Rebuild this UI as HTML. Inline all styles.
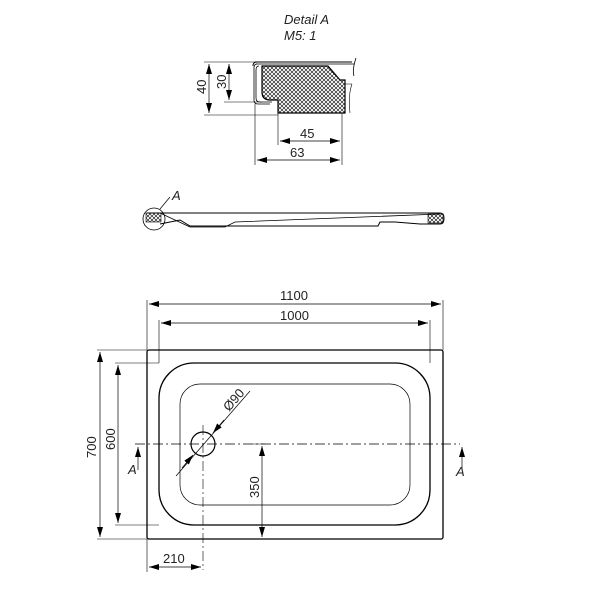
<!DOCTYPE html>
<html><head><style>body{margin:0;background:#fff}svg{display:block}text{font-family:"Liberation Sans",sans-serif;font-size:13px;fill:#222}</style></head><body>
<svg width="600" height="600" viewBox="0 0 600 600" xmlns="http://www.w3.org/2000/svg">
<defs>
<pattern id="h" width="4" height="4" patternUnits="userSpaceOnUse"><path d="M0 0L4 4M4 0L0 4" stroke="#000" stroke-width="0.6"/></pattern>
<marker id="a" markerWidth="10" markerHeight="6" refX="10" refY="3" orient="auto-start-reverse" markerUnits="userSpaceOnUse"><path d="M0 0L10 3L0 6z" fill="#000"/></marker>
</defs>
<g stroke="#000" fill="none">
<path d="M255 62H352M253 66Q253 62 257 62" stroke-width="1"/>
<path d="M256 64H354M356 58Q352 70 354 76" stroke-width="0.8"/>
<path d="M262 66H328L340 80H345V113H278V100H270Q262 100 262 92Z" fill="url(#h)" stroke-width="1.2"/>
<path d="M257 64Q254 64 254 68V100Q254 104 258 104H270M259 66Q256 66 256 70V98Q256 102 260 102H272" stroke-width="0.8"/>
<path d="M345 84H352M352 84Q348 95 350 113" stroke-width="0.6"/>
<path d="M204 62H255M204 115H278M224 102H262M255 104V165M278 113V145M342 113V165" stroke-width="0.6"/>
<g stroke-width="0.7" marker-start="url(#a)" marker-end="url(#a)">
<path d="M209 64V113"/><path d="M229 64V100"/><path d="M280 141H340"/><path d="M257 160H340"/>
<path d="M149 304H441"/><path d="M161 323H428"/><path d="M100 352V537"/><path d="M118 365V523"/><path d="M149 567H201"/><path d="M262 446V537"/>
</g>
<path d="M147 213H440Q444 213 444 218Q444 224 440 224H420L395 222H380L378 226H270L230 226H190L180 220L160 224" stroke-width="1"/>
<path d="M160 213L190 227M190 227H225L235 222L440 214" stroke-width="0.8"/>
<rect x="146" y="213" width="15" height="9" fill="url(#h)" stroke-width="0.6"/>
<rect x="428" y="214" width="15" height="9" fill="url(#h)" stroke-width="0.6"/>
<circle cx="154" cy="219" r="11" stroke-width="0.8"/>
<path d="M160 209L170 197" stroke-width="0.7"/>
<rect x="147" y="350" width="296" height="189" rx="2" stroke-width="1.3"/>
<rect x="159" y="363" width="271" height="162" rx="35" stroke-width="1.3"/>
<rect x="180" y="384" width="230" height="121" rx="20" stroke-width="0.7"/>
<circle cx="203" cy="444" r="12" stroke-width="1.2"/>
<path d="M135 444H460" stroke-width="0.7" stroke-dasharray="10 3 2 3"/>
<path d="M203 425V570" stroke-width="0.6" stroke-dasharray="10 3 2 3"/>
<path d="M147 300V350M443 300V350M159 320V363M430 320V363M97 350H147M97 539H147M115 363H159M115 525H159M147 539V572M253 444H265" stroke-width="0.6"/>
<path d="M176 476L250 391" stroke-width="0.7"/>
<path d="M224 420L213 433" stroke-width="0.7" marker-end="url(#a)"/>
<path d="M182 468L193 455" stroke-width="0.7" marker-end="url(#a)"/>
<path d="M138 470V447" stroke-width="0.7" marker-end="url(#a)"/>
<path d="M462 470V447" stroke-width="0.7" marker-end="url(#a)"/>
</g>
<text x="284" y="24" font-style="italic">Detail  A</text>
<text x="284" y="40" font-style="italic">M5: 1</text>
<text x="172" y="200" font-style="italic">A</text>
<text x="300" y="138">45</text>
<text x="290" y="157">63</text>
<text transform="translate(206,94) rotate(-90)">40</text>
<text transform="translate(226,89) rotate(-90)">30</text>
<text x="280" y="300">1100</text>
<text x="280" y="320">1000</text>
<text transform="translate(96,458) rotate(-90)">700</text>
<text transform="translate(115,450) rotate(-90)">600</text>
<text transform="translate(259,498) rotate(-90)">350</text>
<text x="163" y="563">210</text>
<text transform="translate(229,412) rotate(-49)">Ø90</text>
<text x="128" y="474" font-style="italic">A</text>
<text x="456" y="476" font-style="italic">A</text>
</svg>
</body></html>
